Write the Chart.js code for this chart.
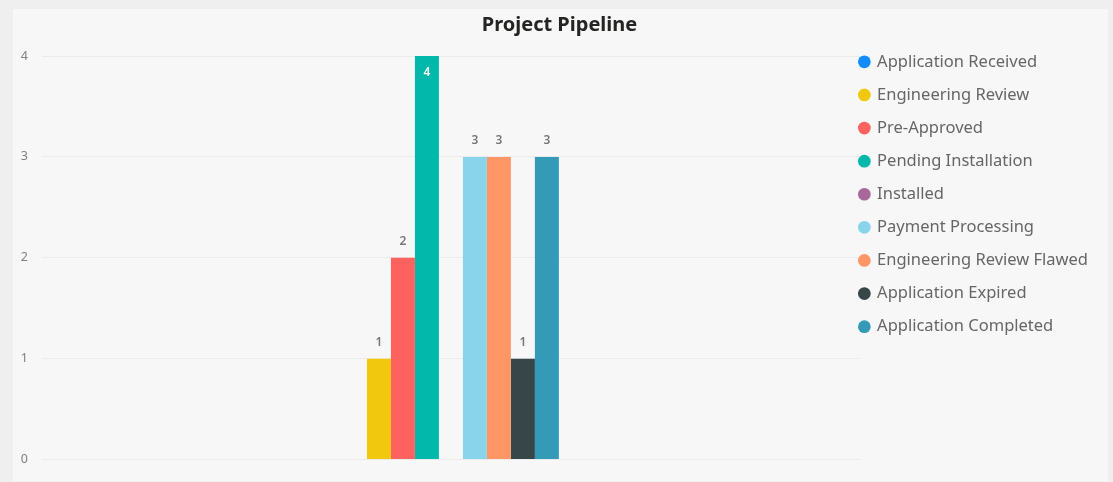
<!DOCTYPE html>
<html>
<head>
<meta charset="utf-8">
<script src="https://cdn.jsdelivr.net/npm/chart.js@4.4.1/dist/chart.umd.min.js"></script>
<style>
  html, body { margin: 0; padding: 0; background: #efefef; }
  #panel { position: absolute; left: 13px; top: 9px; width: 1095px; height: 472px; background: #f7f7f7; }
</style>
</head>
<body>
<div id="panel"><canvas id="pipeline"></canvas></div>
<script>
// chart data
var categories = ['Project Pipeline'];
var statusNames = ['Application Received', 'Engineering Review', 'Pre-Approved', 'Pending Installation', 'Installed',
  'Payment Processing', 'Engineering Review Flawed', 'Application Expired', 'Application Completed'];
var statusCounts = [0, 1, 2, 4, 0, 3, 3, 1, 3];
var statusColors = ['#118DFF', '#F2C80F', '#FD625E', '#01B8AA', '#A66999', '#8AD4EB', '#FE9666', '#374649', '#3599B8'];
var yTicks = [0, 1, 2, 3, 4];

var fontFamily = '"Noto Sans", "Open Sans", sans-serif';
var legendPad = 16.6;

// one dataset per status so each gets its own legend entry
var datasets = [];
for (var i = 0; i < statusNames.length; i++) {
  datasets.push({
    label: statusNames[i],
    data: [statusCounts[i]],
    backgroundColor: statusColors[i],
    borderWidth: 0,
    barPercentage: 1,
    categoryPercentage: 0.264
  });
}

// draws the value labels above the bars (inside when there is no room)
var valueLabels = {
  id: 'valueLabels',
  afterDatasetsDraw: function (chart) {
    var ctx = chart.ctx;
    var top = chart.chartArea.top;
    ctx.save();
    ctx.font = '600 12px ' + fontFamily;
    ctx.textAlign = 'center';
    ctx.textBaseline = 'middle';
    chart.data.datasets.forEach(function (ds, d) {
      var value = ds.data[0];
      if (!value) return;
      var bar = chart.getDatasetMeta(d).data[0];
      if (bar.y - 24 < top) {
        ctx.fillStyle = '#ffffff';
        ctx.fillText(value, bar.x, bar.y + 17);
      } else {
        ctx.fillStyle = '#777777';
        ctx.fillText(value, bar.x, bar.y - 16);
      }
    });
    ctx.restore();
  }
};

// legend sits tight against the plot: give its left padding back to the chart area
var tightLegend = {
  id: 'tightLegend',
  afterInit: function (chart) {
    var lg = chart.legend;
    var fit = lg.fit;
    lg.fit = function () {
      fit.call(this);
      this.width -= legendPad;
    };
  },
  afterLayout: function (chart) {
    // only move the left edge, the legend clips to its box
    chart.legend.left -= legendPad;
  }
};

var ctx = document.getElementById('pipeline').getContext('2d');
var chart = new Chart(ctx, {
  type: 'bar',
  data: {
    labels: categories,
    datasets: datasets
  },
  plugins: [valueLabels, tightLegend],
  options: {
    responsive: true,
    maintainAspectRatio: false,
    animation: false,
    layout: { autoPadding: false, padding: { left: 8, right: 10, top: 0, bottom: 16.8 } },
    plugins: {
      title: {
        display: true,
        text: 'Project Pipeline',
        color: '#252423',
        font: { family: fontFamily, size: 20, weight: 'bold' },
        padding: { top: 4, bottom: 19 }
      },
      legend: {
        position: 'right',
        align: 'start',
        title: {
          display: true,
          text: ' ',
          font: { size: 10 },
          padding: { top: 8, bottom: 8 }
        },
        labels: {
          usePointStyle: true,
          pointStyle: 'circle',
          boxWidth: 9,
          boxHeight: 9,
          padding: legendPad,
          color: '#666666',
          font: { family: fontFamily, size: 16.5 }
        }
      },
      tooltip: { enabled: false }
    },
    scales: {
      x: {
        display: false
      },
      y: {
        min: 0,
        max: 4,
        afterBuildTicks: function (axis) {
          axis.ticks = yTicks.map(function (v) { return { value: v }; });
        },
        afterFit: function (axis) {
          axis.width = 21;
        },
        ticks: {
          color: '#808080',
          padding: 14,
          font: { family: fontFamily, size: 12.5 }
        },
        grid: { color: '#ebebeb', lineWidth: 1, drawTicks: false },
        border: { display: false }
      }
    }
  }
});
</script>
</body>
</html>
